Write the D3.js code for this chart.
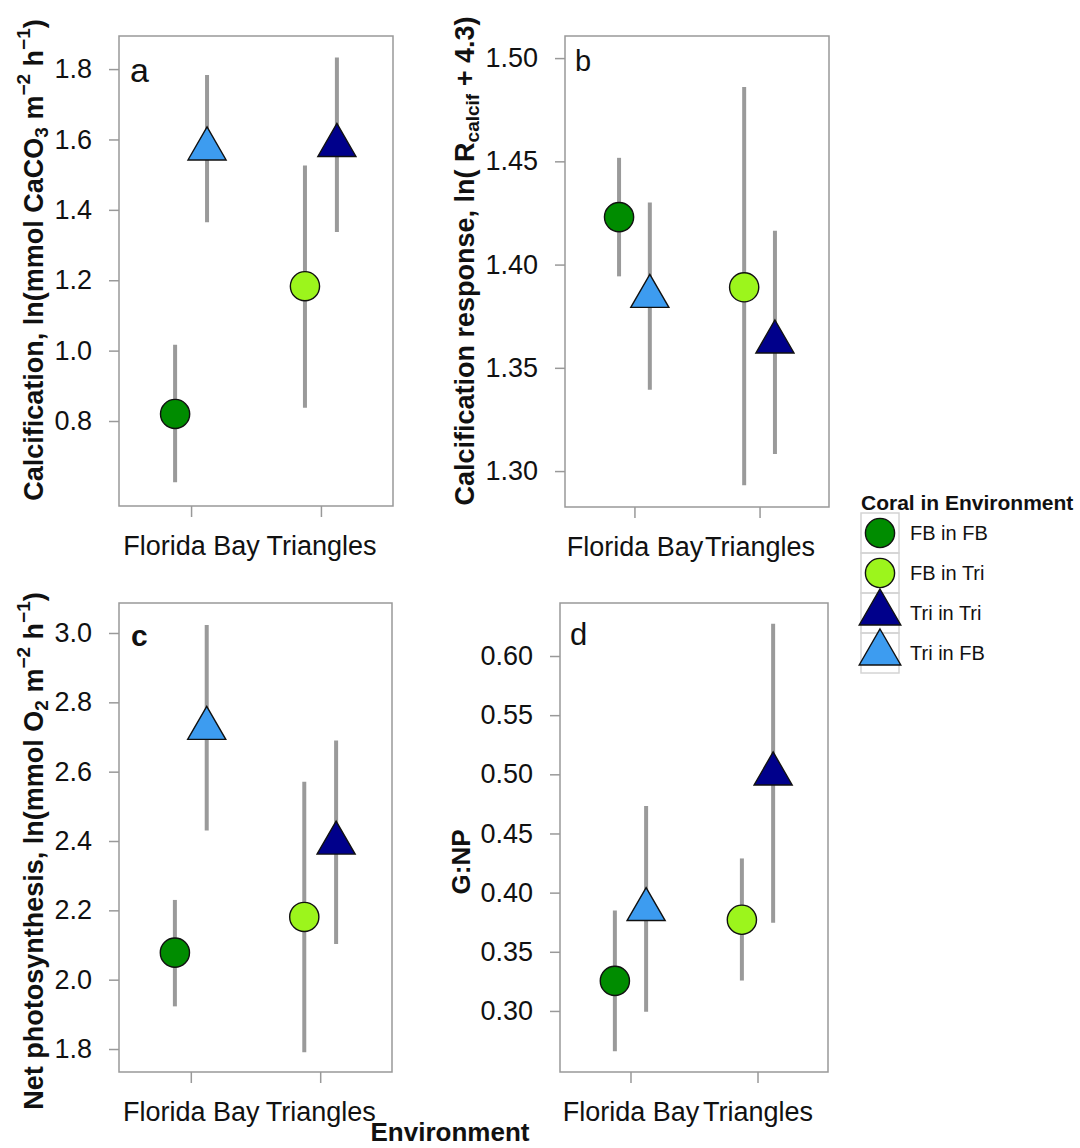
<!DOCTYPE html>
<html>
<head>
<meta charset="utf-8">
<script src="https://cdn.jsdelivr.net/npm/d3@7"></script>
<style>
    body { margin: 0; background: #fff; }
    svg { display: block; font-family: 'Liberation Sans', Arial, sans-serif; }
</style>
</head>
<body>
<div id="chart"></div>
<script>
// groups in the order of the legend
const groups = ['FB in FB', 'FB in Tri', 'Tri in Tri', 'Tri in FB'];
const groupEnv = ['Florida Bay', 'Triangles', 'Triangles', 'Florida Bay'];
const groupCoral = ['FB', 'FB', 'Tri', 'Tri'];
const environments = ['Florida Bay', 'Triangles'];

// a: calcification
const calcMean = [0.82, 1.183, 1.583, 1.573];
const calcLo = [0.626, 0.838, 1.337, 1.365];
const calcHi = [1.017, 1.526, 1.833, 1.783];
const calcTicks = [0.8, 1.0, 1.2, 1.4, 1.6, 1.8];
const calcLimits = [0.5585, 1.894];

// b: calcification response
const respMean = [1.423, 1.389, 1.3625, 1.3846];
const respLo = [1.3943, 1.2931, 1.3083, 1.3394];
const respHi = [1.4517, 1.486, 1.4164, 1.4301];
const respTicks = [1.30, 1.35, 1.40, 1.45, 1.50];
const respLimits = [1.2826, 1.5107];

// c: net photosynthesis
const photoMean = [2.078, 2.181, 2.394, 2.725];
const photoLo = [1.923, 1.791, 2.103, 2.43];
const photoHi = [2.23, 2.571, 2.69, 3.023];
const photoTicks = [1.8, 2.0, 2.2, 2.4, 2.6, 2.8, 3.0];
const photoLimits = [1.7337, 3.0865];

// d: G:NP
const gnpMean = [0.3254, 0.3771, 0.5003, 0.3857];
const gnpLo = [0.266, 0.3257, 0.3746, 0.2994];
const gnpHi = [0.385, 0.4289, 0.6273, 0.4733];
const gnpTicks = [0.30, 0.35, 0.40, 0.45, 0.50, 0.55, 0.60];
const gnpLimits = [0.2484, 0.6448];

const fills = { 'FB in FB': '#008c00', 'FB in Tri': '#9cf51c', 'Tri in Tri': '#00008b', 'Tri in FB': '#3d9cf0' };
const shapes = { FB: d3.symbolCircle, Tri: d3.symbolTriangle };
const shapeSize = { FB: Math.PI * 14.6 * 14.6, Tri: 11 * 11 * 3 * Math.sqrt(3) };

const svg = d3.select('#chart').append('svg').attr('width', 1080).attr('height', 1148);

const panels = [
    { letter: 'a', mean: calcMean, lo: calcLo, hi: calcHi, ticks: calcTicks, lim: calcLimits, fmt: d3.format('.1f'),
      box: [119, 36, 393, 506], tx: 34, ty: 260, lx: 130, ly: 82, lsize: 34, lbold: false,
      title: [['Calcification, ln(mmol CaCO', ''], ['3', 'sub'], [' m', ''], ['\u22122', 'sup'], [' h', ''], ['\u22121', 'sup'], [')', '']] },
    { letter: 'b', mean: respMean, lo: respLo, hi: respHi, ticks: respTicks, lim: respLimits, fmt: d3.format('.2f'),
      box: [565, 36, 829, 507], tx: 465, ty: 261, lx: 575, ly: 71, lsize: 29, lbold: false,
      title: [['Calcification response, ln( R', ''], ['calcif', 'sub'], [' + 4.3)', '']] },
    { letter: 'c', mean: photoMean, lo: photoLo, hi: photoHi, ticks: photoTicks, lim: photoLimits, fmt: d3.format('.1f'),
      box: [119, 603, 392, 1072], tx: 34, ty: 851, lx: 131, ly: 646, lsize: 30, lbold: true,
      title: [['Net photosynthesis, ln(mmol O', ''], ['2', 'sub'], [' m', ''], ['\u22122', 'sup'], [' h', ''], ['\u22121', 'sup'], [')', '']] },
    { letter: 'd', mean: gnpMean, lo: gnpLo, hi: gnpHi, ticks: gnpTicks, lim: gnpLimits, fmt: d3.format('.2f'),
      box: [560, 603, 828, 1072], tx: 461, ty: 862, lx: 570, ly: 645, lsize: 31, lbold: false,
      title: [['G:NP', '']] }
];

function drawPanel(p) {
    const [x0, y0, x1, y1] = p.box;
    const g = svg.append('g');
    const y = d3.scaleLinear().domain(p.lim).range([y1, y0]);
    const x = d3.scalePoint().domain(environments).range([x0, x1]).padding(0.555);
    const off = 0.123 * x.step();

    // y axis
    const yAxis = g.append('g').attr('transform', `translate(${x0},0)`)
        .call(d3.axisLeft(y).tickValues(p.ticks).tickFormat(p.fmt).tickSize(10).tickPadding(17));
    // x axis
    const xAxis = g.append('g').attr('transform', `translate(0,${y1})`)
        .call(d3.axisBottom(x).tickSize(11).tickPadding(19));
    [yAxis, xAxis].forEach(a => {
        a.select('.domain').remove();
        a.selectAll('line').attr('stroke', '#999').attr('stroke-width', 1.5);
        a.selectAll('text').attr('font-size', 27).attr('fill', '#111').attr('font-family', null);
    });
    xAxis.selectAll('text').attr('dy', '0.71em');

    g.append('rect').attr('x', x0).attr('y', y0).attr('width', x1 - x0).attr('height', y1 - y0)
        .attr('fill', 'none').attr('stroke', '#999').attr('stroke-width', 1.5);

    const rows = groups.map((name, i) => ({
        name: name,
        coral: groupCoral[i],
        cx: x(groupEnv[i]) + (groupCoral[i] === 'FB' ? -off : off),
        m: p.mean[i], lo: p.lo[i], hi: p.hi[i]
    }));

    // error bars first, points on top
    g.selectAll('.bar').data(rows).enter().append('line')
        .attr('x1', d => d.cx).attr('x2', d => d.cx)
        .attr('y1', d => y(d.lo)).attr('y2', d => y(d.hi))
        .attr('stroke', '#9a9a9a').attr('stroke-width', 4);

    g.selectAll('.pt').data(rows).enter().append('path')
        .attr('d', d => d3.symbol().type(shapes[d.coral]).size(shapeSize[d.coral])())
        .attr('transform', d => `translate(${d.cx},${y(d.m)})`)
        .attr('fill', d => fills[d.name]).attr('stroke', '#111').attr('stroke-width', 1.4);

    g.append('text').attr('x', p.lx).attr('y', p.ly).attr('font-size', p.lsize)
        .attr('font-weight', p.lbold ? 'bold' : 'normal').attr('fill', '#111').text(p.letter);

    // rotated axis title with sub/superscripts
    const t = g.append('text').attr('transform', `translate(${p.tx},${p.ty}) rotate(-90)`)
        .attr('text-anchor', 'middle').attr('dominant-baseline', 'central')
        .attr('font-size', p.letter === 'd' ? 26 : 27).attr('font-weight', 'bold').attr('fill', '#111');
    let shift = 0;
    p.title.forEach(part => {
        let want = 0;
        if (part[1] === 'sub') want = 7;
        if (part[1] === 'sup') want = -11;
        t.append('tspan').attr('dy', want - shift)
            .attr('font-size', part[1] ? 19 : null).text(part[0]);
        shift = want;
    });
}

panels.forEach(drawPanel);

// shared x title
svg.append('text').attr('x', 450).attr('y', 1141).attr('text-anchor', 'middle')
    .attr('font-size', 26).attr('font-weight', 'bold').attr('fill', '#111').text('Environment');

// legend
const leg = svg.append('g');
leg.append('text').attr('x', 861).attr('y', 510).attr('font-size', 21).attr('font-weight', 'bold')
    .attr('fill', '#111').text('Coral in Environment');
groups.forEach((name, i) => {
    const top = 513 + i * 40;
    leg.append('rect').attr('x', 861).attr('y', top).attr('width', 38).attr('height', 40)
        .attr('fill', 'none').attr('stroke', '#d4d4d4').attr('stroke-width', 1.5);
    const coral = groupCoral[i];
    leg.append('path')
        .attr('d', d3.symbol().type(shapes[coral]).size(coral === 'FB' ? shapeSize.FB : 12 * 12 * 3 * Math.sqrt(3))())
        .attr('transform', `translate(880,${top + 20})`)
        .attr('fill', fills[name]).attr('stroke', '#111').attr('stroke-width', 1.4);
    leg.append('text').attr('x', 910).attr('y', top + 20).attr('dy', '0.35em')
        .attr('font-size', 20).attr('fill', '#111').text(name);
});
</script>
</body>
</html>
